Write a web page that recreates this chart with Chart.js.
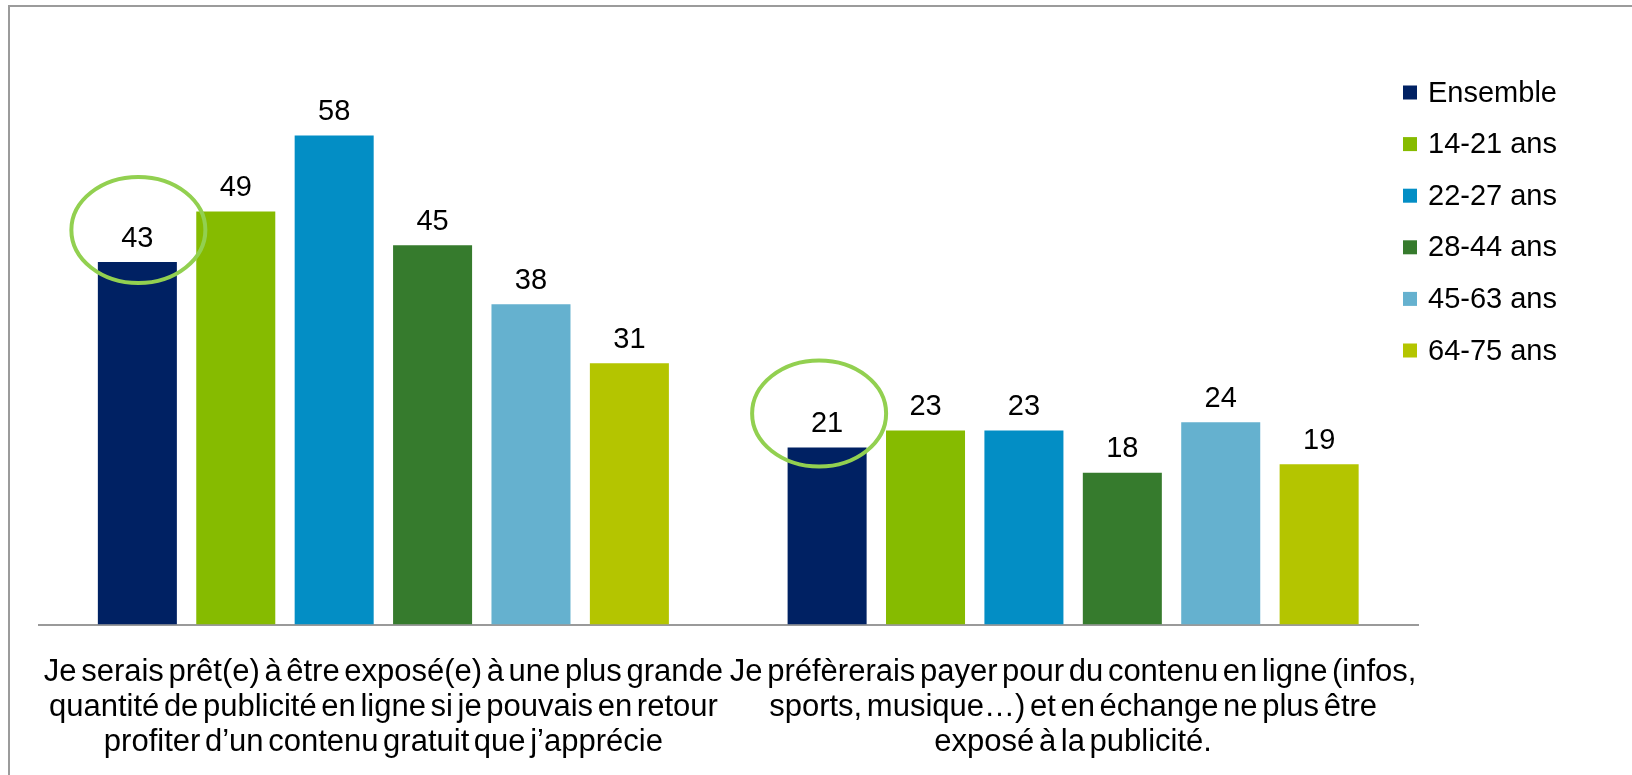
<!DOCTYPE html>
<html>
<head>
<meta charset="utf-8">
<script src="https://cdn.jsdelivr.net/npm/chart.js@4.4.1/dist/chart.umd.min.js"></script>
<style>
  html, body { margin: 0; padding: 0; background: #fff; overflow: hidden; }
  #wrap { position: relative; width: 1632px; height: 775px; }
  #wrap canvas { position: absolute; left: 0; top: 0; }
  #frame {
    position: absolute; left: 8px; top: 5px; width: 1700px; height: 900px;
    border: 2px solid #9b9b9b; box-sizing: border-box; pointer-events: none;
  }
</style>
</head>
<body>
<div id="wrap">
  <canvas id="chart" width="1632" height="775"></canvas>
  <div id="frame"></div>
</div>
<script>
// Statements (multi-line category labels)
const categories = [
  ["Je serais prêt(e) à être exposé(e) à une plus grande",
   "quantité de publicité en ligne si je pouvais en retour",
   "profiter d’un contenu gratuit que j’apprécie"],
  ["Je préfèrerais payer pour du contenu en ligne (infos,",
   "sports, musique…) et en échange ne plus être",
   "exposé à la publicité."]
];

// Series names and values (%)
const seriesNames = ["Ensemble", "14-21 ans", "22-27 ans", "28-44 ans", "45-63 ans", "64-75 ans"];
const ensemble = [43, 21];
const ans14to21 = [49, 23];
const ans22to27 = [58, 23];
const ans28to44 = [45, 18];
const ans45to63 = [38, 24];
const ans64to75 = [31, 19];

const seriesValues = [ensemble, ans14to21, ans22to27, ans28to44, ans45to63, ans64to75];
const seriesColors = ["#002163", "#86BB00", "#038EC5", "#367B2D", "#65B1CF", "#B4C500"];

const datasets = seriesNames.map((name, i) => ({
  label: name,
  data: seriesValues[i],
  backgroundColor: seriesColors[i],
  borderWidth: 0,
  categoryPercentage: 0.856,
  barPercentage: 0.803
}));

// Tighter word spacing for the axis statements (while measuring and drawing them)
const tightWords = {
  id: 'tightWords',
  beforeLayout(chart) { chart.ctx.wordSpacing = '-4px'; },
  afterLayout(chart) { chart.ctx.wordSpacing = '0px'; },
  beforeDraw(chart) { chart.ctx.wordSpacing = '-4px'; },
  beforeDatasetsDraw(chart) { chart.ctx.wordSpacing = '0px'; }
};

// Value printed above every bar
const valueLabels = {
  id: 'valueLabels',
  afterDatasetsDraw(chart) {
    const ctx = chart.ctx;
    ctx.save();
    ctx.font = '29px "Liberation Sans", Arial, sans-serif';
    ctx.fillStyle = '#000';
    ctx.textAlign = 'center';
    ctx.textBaseline = 'middle';
    chart.data.datasets.forEach((ds, di) => {
      chart.getDatasetMeta(di).data.forEach((bar, i) => {
        ctx.fillText(String(ds.data[i]), bar.x, bar.y - 23.5);
      });
    });
    ctx.restore();
  }
};

// Green rings drawn around the "Ensemble" values
const rings = {
  id: 'rings',
  afterDatasetsDraw(chart, args, opts) {
    const ctx = chart.ctx;
    ctx.save();
    ctx.strokeStyle = opts.color;
    ctx.lineWidth = opts.width;
    opts.items.forEach(it => {
      const bar = chart.getDatasetMeta(it.dataset).data[it.index];
      ctx.beginPath();
      ctx.ellipse(bar.x + it.dx, bar.y + it.dy, it.rx, it.ry, 0, 0, Math.PI * 2);
      ctx.stroke();
    });
    ctx.restore();
  }
};

// Legend column at the upper right
const sideLegend = {
  id: 'sideLegend',
  afterDraw(chart, args, opts) {
    const ctx = chart.ctx;
    ctx.save();
    ctx.font = '29px "Liberation Sans", Arial, sans-serif';
    ctx.textAlign = 'left';
    ctx.textBaseline = 'middle';
    chart.data.datasets.forEach((ds, i) => {
      const cy = opts.top + i * opts.step;
      ctx.fillStyle = ds.backgroundColor;
      ctx.fillRect(opts.left, cy - opts.box / 2, opts.box, opts.box);
      ctx.fillStyle = '#000';
      ctx.fillText(ds.label, opts.left + opts.box + 11, cy + 1);
    });
    ctx.restore();
  }
};

new Chart(document.getElementById('chart'), {
  type: 'bar',
  data: { labels: categories, datasets },
  plugins: [tightWords, valueLabels, rings, sideLegend],
  options: {
    responsive: false,
    animation: false,
    layout: { padding: { left: 38.5, right: 214, top: 34.4, bottom: 0 } },
    plugins: {
      legend: { display: false },
      tooltip: { enabled: false },
      rings: {
        color: '#92D050',
        width: 4,
        items: [
          { dataset: 0, index: 0, dx: 1, dy: -32, rx: 67, ry: 53 },
          { dataset: 0, index: 1, dx: -8, dy: -34, rx: 67, ry: 53 }
        ]
      },
      sideLegend: { left: 1403, top: 92.5, step: 51.6, box: 14 }
    },
    scales: {
      x: {
        grid: { display: false, drawTicks: false },
        border: { display: true, color: '#9a9a9a', width: 2 },
        ticks: {
          color: '#000',
          autoSkip: false,
          maxRotation: 0,
          minRotation: 0,
          padding: 30.8,
          font: { family: '"Liberation Sans", Arial, sans-serif', size: 31, lineHeight: '35px' }
        },
        afterFit(scale) {
          scale.height = 150.5;
          scale.paddingLeft = 0;
          scale.paddingRight = 0;
        }
      },
      y: {
        display: false,
        min: 0,
        max: 70
      }
    }
  }
});
</script>
</body>
</html>
